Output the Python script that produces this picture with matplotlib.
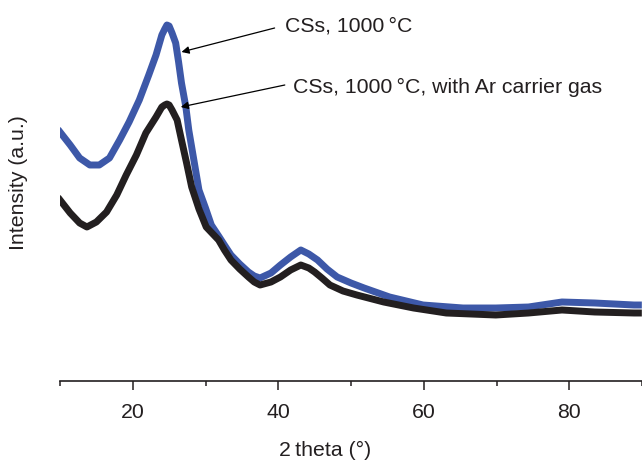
import matplotlib
matplotlib.use("Agg")
import matplotlib.pyplot as plt

plt.rcParams['font.family'] = ['Liberation Sans', 'DejaVu Sans']

# Blue series: CSs, 1000 °C
two_theta_blue = [10.0, 11.4, 12.7, 14.1, 15.4, 16.8, 18.2, 19.5, 20.9, 22.2, 23.2, 24.0,
                  24.4, 24.7, 25.0, 25.4, 25.9, 26.3, 26.7, 27.3, 27.7, 28.4, 29.1, 30.0,
                  30.8, 31.8, 32.6, 33.5, 34.7, 35.9, 36.7, 37.5, 39.0, 40.3, 41.7, 43.1,
                  44.2, 45.4, 46.7, 48.1, 50.0, 51.8, 55.3, 59.9, 65.4, 69.9, 74.4, 79.0,
                  83.5, 88.9, 89.5]
intensity_blue = [249, 236, 223, 216, 216, 223, 241, 259, 281, 306, 326, 346,
                  352, 356, 355, 348, 338, 319, 298, 274, 251, 221, 191, 173,
                  156, 145, 136, 126, 117, 109, 105, 103, 108, 116, 124, 131,
                  127, 121, 112, 104, 98, 93, 84, 76, 73, 73, 74, 79,
                  78, 76, 76]

# Black series: CSs, 1000 °C, with Ar carrier gas
two_theta_black = [10.0, 11.4, 12.7, 13.7, 15.0, 16.4, 17.8, 19.1, 20.5, 21.8, 23.2, 24.0,
                   24.4, 24.7, 25.0, 25.4, 26.1, 26.7, 27.4, 28.1, 29.1, 30.1, 31.8, 32.6,
                   33.5, 34.7, 35.9, 36.7, 37.5, 39.0, 40.3, 41.7, 43.1, 44.2, 45.0, 46.0,
                   47.1, 48.9, 50.8, 54.5, 58.6, 63.1, 69.9, 74.4, 79.0, 83.5, 88.9, 89.5]
intensity_black = [181, 168, 158, 154, 159, 169, 186, 206, 226, 248, 264, 274,
                   276, 277, 276, 271, 261, 241, 218, 194, 172, 154, 141, 131,
                   121, 112, 104, 99, 96, 99, 104, 111, 116, 113, 109, 103,
                   96, 90, 86, 79, 73, 68, 66, 68, 71, 69, 68, 68]

x_ticks = [20, 40, 60, 80]
x_minor = [10, 30, 50, 70, 90]

label_blue = "CSs, 1000\u2009\u00b0C"
label_black = "CSs, 1000\u2009\u00b0C, with Ar carrier gas"

W, H = 642, 461
fig = plt.figure(figsize=(W / 100, H / 100), dpi=100)
ax = fig.add_axes([60 / W, (H - 381) / H, 1 - 60 / W, 381 / H])

blue = '#3d58a8'
dark = '#231f20'
FS = 15.3

ax.plot(two_theta_black, intensity_black, color=dark, lw=5.0, solid_joinstyle='round', zorder=2)
ax.plot(two_theta_blue, intensity_blue, color=blue, lw=5.0, solid_joinstyle='round', zorder=1)

ax.set_xlim(10, 10 + 582 / 7.35)
ax.set_ylim(0, 381)

for s in ['left', 'right', 'top']:
    ax.spines[s].set_visible(False)
ax.spines['bottom'].set_color(dark)
ax.spines['bottom'].set_linewidth(1.2)
ax.set_yticks([])
ax.set_xticks(x_ticks)
ax.set_xticks(x_minor, minor=True)
ax.tick_params(axis='x', which='major', length=6.5, width=1.1, color=dark,
               labelsize=FS, labelcolor=dark, pad=9.5)
ax.tick_params(axis='x', which='minor', length=3.6, width=1.1, color=dark)

# annotations
ax.annotate('', xy=(26.7, 329), xytext=(39.5, 353),
            arrowprops=dict(arrowstyle='-|>', color='black', lw=0.9, mutation_scale=11,
                            shrinkA=0, shrinkB=0), zorder=5)
ax.text(40.9, 355, label_blue, fontsize=FS, color=dark, ha='left', va='center')
ax.annotate('', xy=(26.6, 274), xytext=(40.9, 296),
            arrowprops=dict(arrowstyle='-|>', color='black', lw=0.9, mutation_scale=11,
                            shrinkA=0, shrinkB=0), zorder=5)
ax.text(42.0, 294, label_black, fontsize=FS, color=dark, ha='left', va='center')

fig.text(325 / W, 5 / H, "2\u2009theta (\u00b0)", fontsize=FS, color=dark,
         ha='center', va='baseline')
fig.text(19 / W, 1 - 183 / H, "Intensity (a.u.)", fontsize=FS, color=dark,
         ha='center', va='center', rotation=90)

fig.savefig('out.png', dpi=100)
